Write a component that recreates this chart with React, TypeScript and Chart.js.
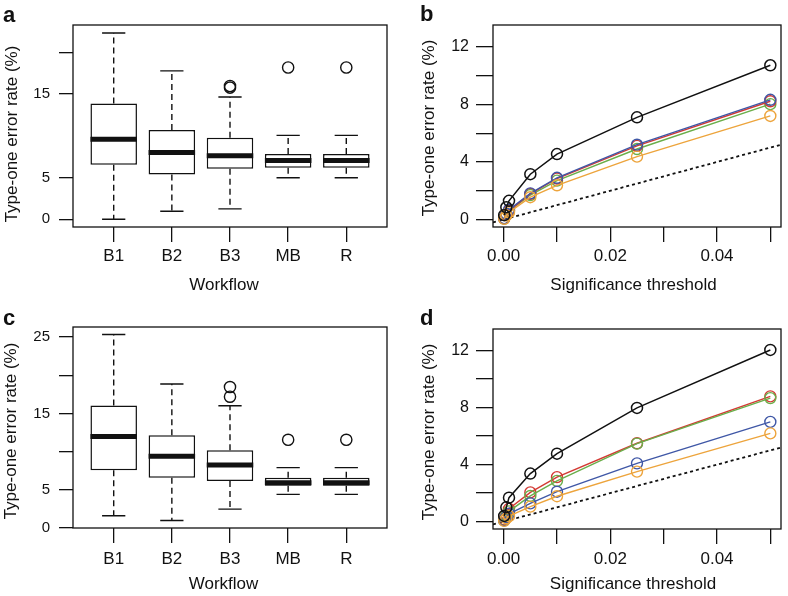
import React, { useEffect, useRef } from 'react';
import { Chart, registerables } from 'chart.js';

Chart.register(...registerables);

const FONT = "'Liberation Sans', Arial, Helvetica, sans-serif";
const INK = '#111111';

// ---------- Box-plot panels (a, c) ----------
const workflows = ['B1', 'B2', 'B3', 'MB', 'R'];

// panel a
const aLow = [0, 0.96, 1.24, 4.96, 4.96];
const aQ1 = [6.52, 5.36, 6.04, 6.16, 6.16];
const aMedian = [9.56, 8.0, 7.6, 7.04, 7.04];
const aQ3 = [13.84, 10.68, 9.76, 7.8, 7.8];
const aHigh = [22.3, 17.76, 14.64, 10.04, 10.04];
const aOutlierCat = ['B3', 'B3', 'MB', 'R'];
const aOutlierVal = [15.75, 15.95, 18.16, 18.16];
const aYTicks = [0, 5, 15, 20];
const aYLabels = ['0', '5', '15', ''];

// panel c
const cLow = [1.58, 0.96, 2.46, 4.39, 4.39];
const cQ1 = [7.54, 6.58, 6.14, 5.53, 5.53];
const cMedian = [11.97, 9.39, 8.25, 5.92, 5.92];
const cQ3 = [16.05, 12.15, 10.18, 6.58, 6.58];
const cHigh = [25.35, 18.86, 16.0, 7.89, 7.89];
const cOutlierCat = ['B3', 'B3', 'MB', 'R'];
const cOutlierVal = [18.46, 17.19, 11.54, 11.54];
const cYTicks = [0, 5, 10, 15, 20, 25];
const cYLabels = ['0', '5', '', '15', '', '25'];

// ---------- Line panels (b, d) ----------
const thresholds = [0.0001, 0.0005, 0.001, 0.005, 0.01, 0.025, 0.05];
const seriesColors = {
  black: '#111111',
  red: '#d33a34',
  green: '#6aae4a',
  blue: '#3f57a6',
  orange: '#eda43c',
};
const bBlack = [0.3, 0.85, 1.3, 3.15, 4.55, 7.1, 10.72];
const bRed = [0.08, 0.35, 0.62, 1.78, 2.85, 5.12, 8.22];
const bBlue = [0.1, 0.4, 0.68, 1.82, 2.9, 5.2, 8.32];
const bGreen = [0.07, 0.32, 0.58, 1.7, 2.7, 4.9, 8.02];
const bOrange = [0.05, 0.28, 0.5, 1.55, 2.38, 4.37, 7.2];

const dBlack = [0.4, 1.0, 1.68, 3.37, 4.77, 7.98, 12.05];
const dRed = [0.15, 0.5, 0.9, 2.05, 3.12, 5.5, 8.79];
const dGreen = [0.1, 0.42, 0.72, 1.8, 2.86, 5.47, 8.67];
const dBlue = [0.08, 0.32, 0.55, 1.28, 2.1, 4.09, 7.0];
const dOrange = [0.05, 0.22, 0.38, 1.05, 1.78, 3.51, 6.19];

// nominal reference line (error rate = threshold)
const refX = [-0.002, 0.052];
const refY = [-0.2, 5.2];

const lineXTicks = [0, 0.01, 0.02, 0.03, 0.04, 0.05];
const lineXLabels = ['0.00', '', '0.02', '', '0.04', ''];
const lineYTicks = [0, 2, 4, 6, 8, 10, 12];
const lineYLabels = ['0', '', '4', '', '8', '', '12'];

const Y_TITLE = 'Type-one error rate (%)';

const W = 394;
const H = 298;

const framePlugin = {
  id: 'rframe',
  afterDraw(chart: any, _args: any, opts: any) {
    const { ctx, chartArea } = chart;
    ctx.save();
    ctx.strokeStyle = INK;
    ctx.lineWidth = 1.3;
    ctx.strokeRect(chartArea.left, chartArea.top, chartArea.right - chartArea.left, chartArea.bottom - chartArea.top);
    ctx.fillStyle = INK;
    // panel letter
    ctx.font = `bold 22px ${FONT}`;
    ctx.textBaseline = 'alphabetic';
    ctx.textAlign = 'left';
    ctx.fillText(opts.letter, opts.lx, opts.ly);
    // axis titles
    ctx.font = `17px ${FONT}`;
    ctx.textAlign = 'center';
    ctx.textBaseline = 'middle';
    ctx.fillText(opts.xTitle, opts.xtx, opts.xty);
    ctx.translate(opts.ytx, opts.yty);
    ctx.rotate(-Math.PI / 2);
    ctx.fillText(Y_TITLE, 0, 0);
    ctx.restore();
  },
};

type Geo = {
  left: number; right: number; top: number; bottom: number;
  yMin: number; yMax: number;
  yTickLen: number; yPad: number; yFont: number;
  xPad: number;
  letter: string; lx: number; ly: number;
  xtx: number; xty: number; ytx: number; yty: number;
};

function baseScales(g: Geo, xCfg: any, yTicks: number[], yLabels: string[]) {
  return {
    x: {
      type: 'linear',
      offset: false,
      ...xCfg,
      ticks: {
        autoSkip: false,
        maxRotation: 0,
        minRotation: 0,
        padding: g.xPad,
        color: INK,
        font: { family: FONT, size: 17 },
        callback: (_v: any, i: number) => xCfg.labels[i],
      },
      grid: { display: true, drawOnChartArea: false, drawTicks: true, tickLength: 15, color: INK, lineWidth: 1.3, offset: false },
      border: { display: false },
      title: { display: false },
      afterFit: (s: any) => { s.height = H - g.bottom; },
    },
    y: {
      type: 'linear',
      min: g.yMin,
      max: g.yMax,
      afterBuildTicks: (s: any) => { s.ticks = yTicks.map((v) => ({ value: v })); },
      ticks: {
        autoSkip: false,
        padding: g.yPad,
        color: INK,
        font: { family: FONT, size: g.yFont },
        callback: (_v: any, i: number) => yLabels[i],
      },
      grid: { display: true, drawOnChartArea: false, drawTicks: true, tickLength: g.yTickLen, color: INK, lineWidth: 1.3 },
      border: { display: false },
      title: { display: false },
      afterFit: (s: any) => { s.width = g.left; },
    },
  };
}

function commonOptions(g: Geo, scales: any, xTitle: string) {
  return {
    responsive: false,
    animation: false,
    devicePixelRatio: 1,
    layout: { padding: { left: 0, top: g.top, right: W - g.right, bottom: 0 } },
    plugins: {
      legend: { display: false },
      tooltip: { enabled: false },
      rframe: { letter: g.letter, lx: g.lx, ly: g.ly, xTitle, xtx: g.xtx, xty: g.xty, ytx: g.ytx, yty: g.yty },
    },
    events: [],
    scales,
  };
}

function boxConfig(
  g: Geo, low: number[], q1: number[], med: number[], q3: number[], high: number[],
  outCat: string[], outVal: number[], yTicks: number[], yLabels: string[],
) {
  const whisk: any[] = [];
  const caps: any[] = [];
  const meds: any[] = [];
  workflows.forEach((_, i) => {
    const x = i + 1;
    whisk.push({ x, y: q3[i] }, { x, y: high[i] }, { x, y: null }, { x, y: q1[i] }, { x, y: low[i] }, { x, y: null });
    caps.push({ x: x - 0.2, y: high[i] }, { x: x + 0.2, y: high[i] }, { x, y: null },
      { x: x - 0.2, y: low[i] }, { x: x + 0.2, y: low[i] }, { x, y: null });
    meds.push({ x: x - 0.4, y: med[i] }, { x: x + 0.4, y: med[i] }, { x, y: null });
  });
  const boxes = workflows.map((_, i) => ({ x: i + 1, y: [q1[i], q3[i]] }));
  const outliers = outCat.map((c, i) => ({ x: workflows.indexOf(c) + 1, y: outVal[i] }));

  const xCfg = {
    min: 0.3,
    max: 5.7,
    labels: workflows,
    afterBuildTicks: (s: any) => { s.ticks = workflows.map((_, i) => ({ value: i + 1 })); },
  };
  return {
    type: 'bar',
    data: {
      datasets: [
        {
          type: 'scatter', data: outliers, pointRadius: 5.6, pointStyle: 'circle',
          pointBorderColor: INK, pointBackgroundColor: 'rgba(0,0,0,0)', pointBorderWidth: 1.4, showLine: false,
        },
        {
          type: 'line', data: meds, borderColor: INK, borderWidth: 5, pointRadius: 0,
          spanGaps: false, borderCapStyle: 'butt',
        },
        {
          type: 'line', data: caps, borderColor: INK, borderWidth: 1.4, pointRadius: 0, spanGaps: false,
        },
        {
          type: 'bar', data: boxes, backgroundColor: '#ffffff', borderColor: INK, borderWidth: 1.5,
          borderSkipped: false, barPercentage: 0.8, categoryPercentage: 1,
        },
        {
          type: 'line', data: whisk, borderColor: INK, borderWidth: 1.4, borderDash: [6, 4],
          pointRadius: 0, spanGaps: false,
        },
      ],
    },
    options: commonOptions(g, baseScales(g, xCfg, yTicks, yLabels), 'Workflow'),
    plugins: [framePlugin],
  };
}

function lineConfig(g: Geo, series: { vals: number[]; color: string; w: number }[]) {
  const xCfg = {
    min: -0.002,
    max: 0.052,
    labels: lineXLabels,
    afterBuildTicks: (s: any) => { s.ticks = lineXTicks.map((v) => ({ value: v })); },
  };
  const datasets: any[] = series.map((s) => ({
    type: 'line',
    data: thresholds.map((t, i) => ({ x: t, y: s.vals[i] })),
    borderColor: s.color,
    borderWidth: s.w,
    pointRadius: 5.5,
    pointStyle: 'circle',
    pointBorderColor: s.color,
    pointBackgroundColor: 'rgba(0,0,0,0)',
    pointBorderWidth: s.w,
    tension: 0,
  }));
  datasets.push({
    type: 'line',
    data: refX.map((x, i) => ({ x, y: refY[i] })),
    borderColor: INK,
    borderWidth: 1.8,
    borderDash: [3, 3],
    pointRadius: 0,
  });
  return {
    type: 'line',
    data: { datasets },
    options: commonOptions(g, baseScales(g, xCfg, lineYTicks, lineYLabels), 'Significance threshold'),
    plugins: [framePlugin],
  };
}

const geoA: Geo = {
  left: 73, right: 388, top: 25, bottom: 227, yMin: -0.93, yMax: 23.25,
  yTickLen: 14, yPad: 9, yFont: 15, xPad: 4.5,
  letter: 'a', lx: 3, ly: 22, xtx: 224, xty: 285, ytx: 12.5, yty: 134,
};
const geoB: Geo = {
  left: 99, right: 392, top: 25, bottom: 227, yMin: -0.52, yMax: 13.52,
  yTickLen: 17, yPad: 7, yFont: 16, xPad: 4.5,
  letter: 'b', lx: 26, ly: 21, xtx: 239.5, xty: 285, ytx: 35.7, yty: 128,
};
const geoC: Geo = {
  left: 73, right: 387, top: 29, bottom: 230, yMin: -0.02, yMax: 26.33,
  yTickLen: 14, yPad: 9, yFont: 15, xPad: 6.5,
  letter: 'c', lx: 3, ly: 27, xtx: 223.5, xty: 286.7, ytx: 11, yty: 133,
};
const geoD: Geo = {
  left: 99, right: 392, top: 31, bottom: 231, yMin: -0.52, yMax: 13.52,
  yTickLen: 17, yPad: 7, yFont: 16, xPad: 4.8,
  letter: 'd', lx: 26, ly: 27, xtx: 239, xty: 286.7, ytx: 35.7, yty: 134,
};

function Panel({ config, left, top }: { config: any; left: number; top: number }) {
  const ref = useRef<HTMLCanvasElement>(null);
  useEffect(() => {
    if (!ref.current) return;
    const chart = new Chart(ref.current, config);
    return () => chart.destroy();
  }, [config]);
  return (
    <canvas
      ref={ref}
      width={W}
      height={H}
      style={{ position: 'absolute', left, top, width: W, height: H }}
    />
  );
}

const configA = boxConfig(geoA, aLow, aQ1, aMedian, aQ3, aHigh, aOutlierCat, aOutlierVal, aYTicks, aYLabels);
const configC = boxConfig(geoC, cLow, cQ1, cMedian, cQ3, cHigh, cOutlierCat, cOutlierVal, cYTicks, cYLabels);
const configB = lineConfig(geoB, [
  { vals: bBlack, color: seriesColors.black, w: 1.5 },
  { vals: bOrange, color: seriesColors.orange, w: 1.4 },
  { vals: bBlue, color: seriesColors.blue, w: 1.4 },
  { vals: bRed, color: seriesColors.red, w: 1.4 },
  { vals: bGreen, color: seriesColors.green, w: 1.4 },
]);
const configD = lineConfig(geoD, [
  { vals: dBlack, color: seriesColors.black, w: 1.5 },
  { vals: dOrange, color: seriesColors.orange, w: 1.4 },
  { vals: dBlue, color: seriesColors.blue, w: 1.4 },
  { vals: dGreen, color: seriesColors.green, w: 1.4 },
  { vals: dRed, color: seriesColors.red, w: 1.4 },
]);

export default function App() {
  return (
    <div style={{ position: 'absolute', left: 0, top: 0, width: 788, height: 596, background: '#ffffff', overflow: 'hidden' }}>
      <Panel config={configA} left={0} top={0} />
      <Panel config={configB} left={394} top={0} />
      <Panel config={configC} left={0} top={298} />
      <Panel config={configD} left={394} top={298} />
    </div>
  );
}
